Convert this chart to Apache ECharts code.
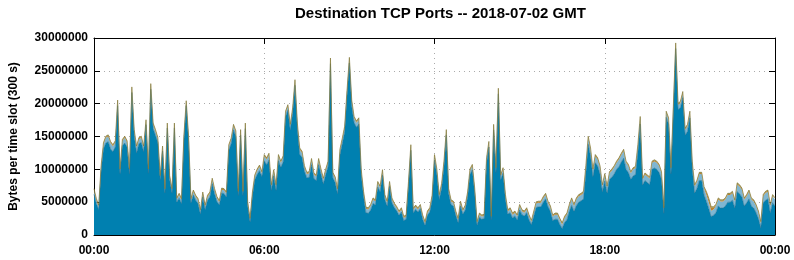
<!DOCTYPE html>
<html><head><meta charset="utf-8">
<script src="https://cdn.jsdelivr.net/npm/echarts@6/dist/echarts.min.js"></script>
<style>html,body{margin:0;padding:0;background:#fff}#c{width:794px;height:260px}</style>
</head><body><div id="c"></div>
<script>
// time slots are 5 minutes apart, 00:00 .. 24:00 (289 points); values in millions of bytes
const SLOT_MINUTES = 5;
const SLOTS_PER_TICK = 72; // 6 hours
const MB = 1000000;
const yTickLabels = ['0','5000000','10000000','15000000','20000000','25000000','30000000'];
const titleText = 'Destination TCP Ports -- 2018-07-02 GMT';
const yAxisTitle = 'Bytes per time slot (300 s)';

const mainMB = [
6.2,4.8,3.9,9.8,13.1,14.0,14.2,13.1,12.7,13.4, 19.7,9.3,13.6,14.0,13.4,9.3,21.7,15.2,12.5,13.9,
14.1,12.7,16.8,9.4,22.2,16.2,15.2,14.1,8.4,12.8, 6.4,16.3,8.4,6.4,16.3,5.0,5.6,4.8,14.3,19.7,
14.3,4.9,6.1,5.3,4.8,3.2,5.8,3.9,5.3,5.8,
7.8,6.3,5.1,4.6,6.4,6.3,5.8,12.9,13.9,16.0, 15.0,6.0,15.2,6.0,16.2,4.4,2.0,5.9,8.4,9.2,
9.8,8.9,11.3,10.7,11.4,6.8,9.0,6.8,11.3,10.3, 11.1,18.0,19.0,16.0,18.5,22.8,16.1,12.3,11.8,9.7,
8.7,8.8,10.7,8.6,8.3,10.7,9.2,7.8,9.2,10.4,
26.1,8.7,8.0,6.3,12.2,13.9,15.7,21.2,26.2,19.6, 17.1,16.4,16.9,9.2,5.9,3.4,3.3,3.8,4.8,4.6,
7.3,6.6,9.1,5.4,4.4,7.4,4.9,4.2,3.7,3.0, 3.5,2.2,2.4,7.4,12.9,3.4,3.9,3.5,4.0,2.4,
1.5,3.0,3.5,5.3,11.4,9.2,5.4,7.1,10.4,15.2,
6.3,4.6,4.4,3.0,1.9,4.4,3.2,3.8,5.8,9.2, 9.9,6.4,1.5,2.7,2.4,2.5,10.9,13.4,2.3,16.0,
9.5,21.5,8.4,9.4,5.4,3.2,3.4,2.6,2.9,2.3, 3.8,3.1,2.9,3.4,2.3,1.6,2.9,4.2,4.3,4.3,
5.0,5.5,4.3,3.6,2.2,2.4,2.4,1.6,1.0,1.9,
2.3,3.6,4.5,3.6,4.5,5.0,5.2,5.5,9.3,13.8, 12.0,8.9,11.0,10.5,9.3,6.6,8.2,6.4,8.5,8.8,
9.3,10.0,10.4,11.1,11.7,10.0,9.5,8.5,9.0,9.2, 12.5,16.9,7.6,8.3,8.0,7.7,10.0,10.2,10.0,9.5,
8.5,3.3,17.9,16.9,9.3,18.6,28.4,19.1,19.4,20.9,
15.2,15.8,17.8,10.1,6.4,7.1,8.3,8.3,6.1,5.1, 4.0,2.8,3.0,3.4,4.4,4.1,4.1,4.4,5.0,5.0,
5.3,4.1,6.6,6.3,5.8,4.4,4.9,5.5,4.4,4.1, 3.4,2.5,1.1,4.9,5.3,5.5,3.4,4.9,4.4
];
const lightMB = [
0.6,0.5,0.4,0.5,0.7,0.8,0.8,0.9,0.8,0.7, 0.6,0.5,0.7,0.8,0.7,0.5,0.6,0.6,0.8,0.7,
0.7,0.6,0.5,0.4,0.6,0.6,0.6,0.5,0.4,0.5, 0.4,0.5,0.4,0.4,0.5,0.4,0.5,0.5,0.5,0.5,
0.5,0.4,0.5,0.5,0.5,0.4,0.5,0.4,0.5,0.5,
0.6,0.5,0.5,0.4,0.5,0.5,0.5,0.6,0.6,0.6, 0.6,0.4,0.6,0.4,0.6,0.4,0.3,0.4,0.5,0.6,
0.6,0.5,0.7,0.8,0.8,0.6,0.7,0.6,0.7,0.7, 0.7,0.6,0.6,0.6,0.6,0.6,0.7,0.7,0.7,0.6,
0.6,0.6,0.7,0.6,0.6,0.7,0.6,0.6,0.6,0.6,
0.6,0.6,0.6,0.5,0.6,0.6,0.6,0.6,0.6,0.7, 0.7,0.7,0.7,0.6,0.5,0.6,0.6,0.6,0.6,0.5,
0.6,0.6,0.6,0.5,0.5,0.5,0.5,0.4,0.4,0.4, 0.4,0.4,0.4,0.5,0.6,0.4,0.4,0.4,0.4,0.4,
0.3,0.4,0.4,0.5,0.6,0.6,0.5,0.5,0.6,0.6,
0.5,0.5,0.5,0.4,0.4,0.5,0.4,0.5,0.5,0.6, 0.6,0.5,0.3,0.4,0.4,0.4,0.6,0.6,0.3,0.6,
0.5,0.6,0.5,0.6,0.5,0.4,0.5,0.5,0.5,0.5, 0.6,0.5,0.5,0.5,0.5,0.4,0.5,0.6,0.6,0.6,
0.6,0.6,0.6,0.6,0.6,0.7,0.7,0.7,0.6,0.7,
0.8,0.8,0.9,0.8,0.9,0.9,0.9,0.9,1.0,1.0, 1.0,0.9,1.0,1.0,1.0,0.8,0.9,0.8,0.9,1.0,
1.0,1.0,1.1,1.1,1.1,1.0,1.0,0.9,1.0,1.0, 1.0,0.9,0.8,0.9,0.9,0.9,1.0,1.0,1.0,1.0,
0.9,0.6,0.7,0.7,0.7,0.7,0.6,0.7,0.7,0.7,
0.8,0.8,0.8,0.9,1.0,1.0,1.0,1.0,1.0,1.0, 1.0,0.9,0.9,1.0,1.0,1.0,1.0,1.0,1.1,1.1,
1.1,1.0,1.1,1.1,1.1,1.0,1.0,1.1,1.0,1.0, 1.0,0.9,0.7,1.0,1.1,1.1,1.0,1.0,1.0
];
const orangeMB = [
0.15,0.15,0.15,0.15,0.15,0.15,0.15,0.15,0.15,0.15, 0.15,0.15,0.15,0.15,0.15,0.15,0.15,0.15,0.15,0.15,
0.15,0.15,0.15,0.15,0.15,0.15,0.15,0.15,0.15,0.15, 0.15,0.15,0.15,0.15,0.15,0.15,0.15,0.15,0.15,0.15,
0.15,0.15,0.15,0.15,0.15,0.15,0.15,0.15,0.15,0.15,
0.15,0.15,0.15,0.15,0.15,0.15,0.15,0.15,0.15,0.15, 0.15,0.15,0.15,0.15,0.15,0.15,0.15,0.15,0.15,0.15,
0.15,0.15,0.15,0.15,0.15,0.15,0.15,0.15,0.15,0.15, 0.15,0.15,0.15,0.15,0.15,0.15,0.15,0.15,0.15,0.15,
0.15,0.15,0.15,0.15,0.15,0.15,0.15,0.15,0.15,0.15,
0.15,0.15,0.15,0.15,0.15,0.15,0.15,0.15,0.15,0.15, 0.15,0.15,0.15,0.15,0.15,0.15,0.15,0.15,0.15,0.15,
0.15,0.15,0.15,0.15,0.15,0.15,0.15,0.15,0.15,0.15, 0.15,0.15,0.15,0.15,0.15,0.15,0.15,0.15,0.15,0.15,
0.15,0.15,0.15,0.15,0.15,0.15,0.15,0.15,0.15,0.15,
0.15,0.15,0.15,0.15,0.15,0.15,0.15,0.15,0.15,0.15, 0.15,0.15,0.15,0.15,0.15,0.15,0.15,0.15,0.15,0.15,
0.15,0.15,0.15,0.15,0.15,0.15,0.15,0.15,0.15,0.15, 0.15,0.15,0.15,0.15,0.15,0.15,0.15,0.15,0.15,0.15,
0.15,0.15,0.15,0.15,0.15,0.15,0.15,0.15,0.15,0.15,
0.15,0.15,0.15,0.15,0.15,0.15,0.15,0.15,0.15,0.15, 0.15,0.15,0.15,0.15,0.15,0.15,0.15,0.15,0.15,0.15,
0.15,0.15,0.15,0.15,0.15,0.15,0.15,0.15,0.15,0.15, 0.15,0.15,0.15,0.15,0.15,0.15,0.15,0.15,0.15,0.15,
0.15,0.15,0.15,0.15,0.15,0.15,0.15,0.15,0.15,0.15,
0.15,0.15,0.15,0.15,0.15,0.15,0.15,0.15,0.15,0.4, 0.5,0.5,0.3,0.15,0.15,0.15,0.15,0.15,0.15,0.15,
0.15,0.15,0.15,0.15,0.15,0.15,0.15,0.15,0.15,0.15, 0.15,0.15,0.15,0.15,0.15,0.15,0.15,0.15,0.15
];
const greenMB = [
0.1,0.1,0.1,0.1,0.1,0.1,0.1,0.1,0.1,0.1, 0.1,0.1,0.1,0.1,0.1,0.1,0.1,0.1,0.1,0.1,
0.1,0.1,0.1,0.1,0.1,0.1,0.1,0.1,0.1,0.1, 0.1,0.1,0.1,0.1,0.1,0.1,0.1,0.1,0.1,0.1,
0.1,0.1,0.1,0.1,0.1,0.1,0.1,0.1,0.1,0.1,
0.1,0.1,0.1,0.1,0.1,0.1,0.1,0.1,0.1,0.1, 0.1,0.1,0.1,0.1,0.1,0.1,0.1,0.1,0.1,0.1,
0.1,0.1,0.1,0.1,0.1,0.1,0.1,0.1,0.1,0.1, 0.1,0.1,0.1,0.1,0.1,0.1,0.1,0.1,0.1,0.1,
0.1,0.1,0.1,0.1,0.1,0.1,0.1,0.1,0.1,0.1,
0.1,0.1,0.1,0.1,0.1,0.1,0.1,0.1,0.1,0.1, 0.1,0.1,0.1,0.1,0.1,0.1,0.1,0.1,0.1,0.1,
0.1,0.1,0.1,0.1,0.1,0.1,0.1,0.1,0.1,0.1, 0.1,0.1,0.1,0.1,0.1,0.1,0.1,0.1,0.1,0.1,
0.1,0.1,0.1,0.1,0.1,0.1,0.1,0.1,0.1,0.1,
0.1,0.1,0.1,0.1,0.1,0.1,0.1,0.1,0.1,0.1, 0.1,0.1,0.1,0.1,0.1,0.1,0.1,0.1,0.1,0.1,
0.1,0.1,0.1,0.1,0.1,0.1,0.1,0.1,0.1,0.1, 0.1,0.1,0.1,0.1,0.1,0.1,0.1,0.1,0.1,0.1,
0.1,0.1,0.1,0.1,0.1,0.1,0.1,0.1,0.1,0.1,
0.1,0.1,0.1,0.1,0.1,0.1,0.1,0.1,0.1,0.1, 0.1,0.1,0.1,0.1,0.1,0.1,0.1,0.1,0.1,0.1,
0.1,0.1,0.1,0.1,0.1,0.1,0.1,0.1,0.1,0.1, 0.1,0.1,0.1,0.1,0.1,0.1,0.1,0.1,0.1,0.1,
0.1,0.1,0.1,0.1,0.1,0.1,0.1,0.1,0.1,0.1,
0.1,0.1,0.1,0.1,0.1,0.1,0.1,0.1,0.1,0.1, 0.1,0.1,0.1,0.1,0.1,0.1,0.1,0.1,0.1,0.1,
0.1,0.1,0.1,0.1,0.1,0.1,0.1,0.1,0.1,0.1, 0.1,0.1,0.1,0.1,0.1,0.1,0.1,0.1,0.1
];

// category labels: one per 5-minute slot, 00:00 .. 24:00 (shown as 00:00)
const slotLabels = [];
for (let i = 0; i < mainMB.length; i++) {
  const m = (i * SLOT_MINUTES) % 1440;
  slotLabels.push(String(Math.floor(m / 60)).padStart(2, '0') + ':' + String(m % 60).padStart(2, '0'));
}

const FONT = '"Liberation Sans", Arial, Helvetica, sans-serif';
const layers = [
  { name: 'main', data: mainMB, fill: '#0080b0', line: '#2a7394', w: 0.6 },
  { name: 'light', data: lightMB, fill: '#7fb6d2', line: '#7fb6d2', w: 0 },
  { name: 'orange', data: orangeMB, fill: '#c0802c', line: '#c0802c', w: 0 },
  { name: 'green', data: greenMB, fill: '#8a8a3c', line: '#857a3a', w: 0.7 }
];

const chart = echarts.init(document.getElementById('c'), null, { renderer: 'canvas' });
const lineStyleBlack = { color: '#000', width: 1 };
const dotted = { color: '#aaaaaa', width: 1, type: [1, 4] };
const everyTick = (idx) => idx % SLOTS_PER_TICK === 0;
chart.setOption({
  animation: false,
  backgroundColor: '#fff',
  title: {
    text: titleText, left: 290, top: 1,
    textStyle: { fontFamily: FONT, fontWeight: 'bold', fontSize: 15, color: '#000' }
  },
  grid: { left: 88, right: 19, top: 38, bottom: 25, containLabel: false },
  xAxis: [
    {
      type: 'category', data: slotLabels, boundaryGap: false, position: 'bottom',
      axisLine: { show: true, onZero: false, lineStyle: lineStyleBlack },
      axisTick: { show: true, inside: true, length: 6, interval: everyTick, lineStyle: lineStyleBlack },
      axisLabel: { interval: everyTick, fontFamily: FONT, fontWeight: 'bold', fontSize: 12, color: '#000', margin: 10, showMinLabel: true, showMaxLabel: true },
      splitLine: { show: true, interval: everyTick, lineStyle: dotted }
    },
    {
      type: 'category', data: slotLabels, boundaryGap: false, position: 'top',
      axisLine: { show: true, onZero: false, lineStyle: lineStyleBlack },
      axisTick: { show: true, inside: true, length: 6, interval: everyTick, lineStyle: lineStyleBlack },
      axisLabel: { show: false }, splitLine: { show: false }
    }
  ],
  yAxis: [
    {
      type: 'value', min: 0, max: 30 * MB, interval: 5 * MB, position: 'left',
      name: yAxisTitle, nameLocation: 'middle', nameGap: 74,
      nameTextStyle: { fontFamily: FONT, fontWeight: 'bold', fontSize: 12, color: '#000' },
      axisLine: { show: true, onZero: false, lineStyle: lineStyleBlack },
      axisTick: { show: true, inside: true, length: 6, lineStyle: lineStyleBlack },
      axisLabel: { formatter: v => yTickLabels[Math.round(v / (5 * MB))], fontFamily: FONT, fontWeight: 'bold', fontSize: 12, color: '#000', margin: 6 },
      splitLine: { show: true, lineStyle: dotted }
    },
    {
      type: 'value', min: 0, max: 30 * MB, interval: 5 * MB, position: 'right',
      axisLine: { show: true, onZero: false, lineStyle: lineStyleBlack },
      axisTick: { show: true, inside: true, length: 6, lineStyle: lineStyleBlack },
      axisLabel: { show: false }, splitLine: { show: false }
    }
  ],
  series: layers.map(l => ({
    name: l.name, type: 'line', stack: 'total', xAxisIndex: 0, yAxisIndex: 0,
    symbol: 'none', showSymbol: false, smooth: false,
    data: l.data.map(v => v * MB),
    lineStyle: { color: l.line, width: l.w },
    areaStyle: { color: l.fill, opacity: 1 },
    emphasis: { disabled: true }
  }))
});
</script></body></html>
